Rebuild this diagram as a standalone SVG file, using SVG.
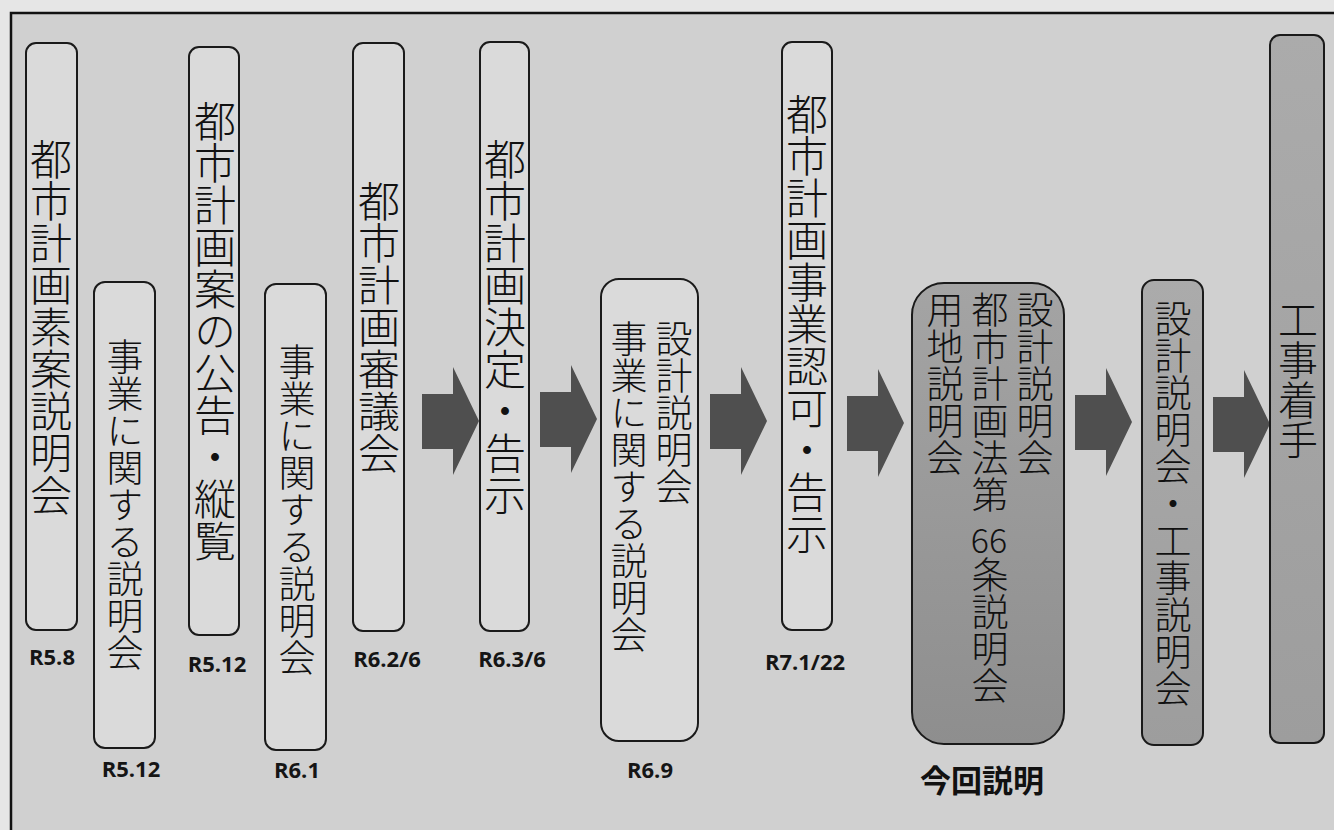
<svg xmlns="http://www.w3.org/2000/svg" width="1334" height="830" viewBox="0 0 1334 830">
<defs>
<style>
.box{fill:#dadada;stroke:#1a1a1a;stroke-width:2}
.dark1{fill:url(#g1);stroke:#1a1a1a;stroke-width:2}
.dark2{fill:url(#g2);stroke:#1a1a1a;stroke-width:2}
.vt{font-family:"Noto Sans CJK JP","Noto Sans CJK SC",sans-serif;font-weight:300;writing-mode:vertical-rl;fill:#111}
.v42{font-size:42px}
.v40{font-size:40px}
.v37{font-size:37px}
.date{font-family:"Open Sans","Liberation Sans",sans-serif;font-weight:700;font-size:22px;fill:#151515;text-anchor:middle}
.arrow{fill:#4f4f4f}
</style>
<linearGradient id="g1" x1="0" y1="0" x2="0" y2="1">
<stop offset="0" stop-color="#a4a4a4"/><stop offset="1" stop-color="#8e8e8e"/>
</linearGradient>
<linearGradient id="g2" x1="0" y1="0" x2="0" y2="1">
<stop offset="0" stop-color="#ababab"/><stop offset="1" stop-color="#9d9d9d"/>
</linearGradient>
<path id="arr" d="M0,27 H31 V0 L57,54 L31,108 V82 H0 Z"/>
</defs>
<rect x="0" y="0" width="1334" height="830" fill="#e6e6e6"/>
<rect x="11" y="13" width="1340" height="830" fill="#d0d0d0" stroke="#111" stroke-width="2.5"/>

<g id="connectors">
<use href="#arr" class="arrow" x="422" y="367"/>
<use href="#arr" class="arrow" x="540" y="365"/>
<use href="#arr" class="arrow" x="710" y="367"/>
<use href="#arr" class="arrow" x="847" y="369"/>
<use href="#arr" class="arrow" x="1075" y="368"/>
<use href="#arr" class="arrow" x="1213" y="370"/>
</g>

<g id="n1">
<rect class="box" x="26" y="43" width="51" height="587" rx="10"/>
<text class="vt v42" x="51" y="138">都市計画素案説明会</text>
<text class="date" x="52" y="665">R5.8</text>
</g>
<g id="n2">
<rect class="box" x="94" y="282" width="61" height="466" rx="11"/>
<text class="vt v37" x="125" y="338">事業に関する説明会</text>
<text class="date" x="131" y="777">R5.12</text>
</g>
<g id="n3">
<rect class="box" x="189" y="47" width="50" height="588" rx="10"/>
<text class="vt v42" x="215" y="100">都市計画案の公告・縦覧</text>
<text class="date" x="217" y="672">R5.12</text>
</g>
<g id="n4">
<rect class="box" x="265" y="284" width="61" height="466" rx="11"/>
<text class="vt v37" x="297" y="343">事業に関する説明会</text>
<text class="date" x="297" y="778">R6.1</text>
</g>
<g id="n5">
<rect class="box" x="353" y="43" width="51" height="588" rx="10"/>
<text class="vt v42" x="379" y="180">都市計画審議会</text>
<text class="date" x="387" y="667">R6.2/6</text>
</g>
<g id="n6">
<rect class="box" x="480" y="42" width="49" height="589" rx="10"/>
<text class="vt v42" x="505" y="138">都市計画決定・告示</text>
<text class="date" x="512" y="667">R6.3/6</text>
</g>
<g id="n7">
<rect class="box" x="601" y="279" width="97" height="462" rx="18"/>
<text class="vt v37" x="674" y="320">設計説明会</text>
<text class="vt v37" x="629" y="320">事業に関する説明会</text>
<text class="date" x="650" y="778">R6.9</text>
</g>
<g id="n8">
<rect class="box" x="782" y="42" width="50" height="588" rx="10"/>
<text class="vt v42" x="807" y="93">都市計画事業認可・告示</text>
<text class="date" x="805" y="670">R7.1/22</text>
</g>
<g id="n9">
<rect class="dark1" x="912" y="283" width="152" height="461" rx="32"/>
<text class="vt v37" x="1035" y="291">設計説明会</text>
<text class="vt v37" x="990" y="291">都市計画法第</text>
<text x="989" y="553" font-family="Noto Sans CJK JP, sans-serif" font-weight="300" font-size="34" text-anchor="middle" fill="#111">66</text>
<text class="vt v37" x="990" y="556">条説明会</text>
<text class="vt v37" x="945" y="291">用地説明会</text>
<text x="982" y="792" font-family="Noto Sans CJK JP, sans-serif" font-weight="700" font-size="31" text-anchor="middle" fill="#111">今回説明</text>
</g>
<g id="n10">
<rect class="dark2" x="1142" y="280" width="61" height="465" rx="12"/>
<text class="vt v37" x="1173" y="300">設計説明会・工事説明会</text>
</g>
<g id="n11">
<rect class="dark2" x="1270" y="35" width="54" height="708" rx="10"/>
<text class="vt v40" x="1298" y="300">工事着手</text>
</g>
</svg>
